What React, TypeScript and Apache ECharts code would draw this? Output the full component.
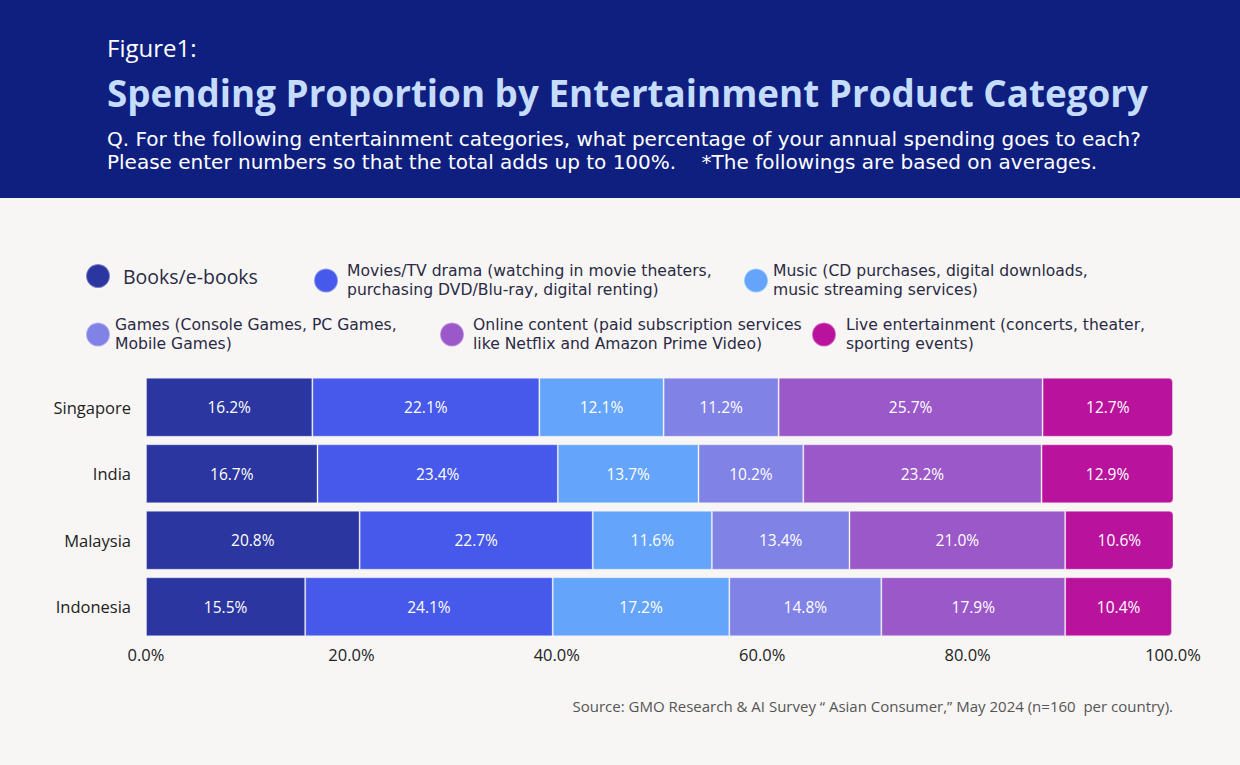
import React, { useEffect, useRef } from "react";
import * as echarts from "echarts";

const countries = ["Singapore", "India", "Malaysia", "Indonesia"];
const seriesNames = [
  "Books/e-books",
  "Movies/TV drama (watching in movie theaters,\npurchasing DVD/Blu-ray, digital renting)",
  "Music (CD purchases, digital downloads,\nmusic streaming services)",
  "Games (Console Games, PC Games,\nMobile Games)",
  "Online content (paid subscription services\nlike Netflix and Amazon Prime Video)",
  "Live entertainment (concerts, theater,\nsporting events)",
];
const books = [16.2, 16.7, 20.8, 15.5];
const movies = [22.1, 23.4, 22.7, 24.1];
const music = [12.1, 13.7, 11.6, 17.2];
const games = [11.2, 10.2, 13.4, 14.8];
const online = [25.7, 23.2, 21.0, 17.9];
const live = [12.7, 12.9, 10.6, 10.4];
const colors = ["#2b36a1", "#4759ea", "#64a5fb", "#8182e6", "#9b58c9", "#b9139d"];
const xTicks = [0, 20, 40, 60, 80, 100];

const FONT = "'Open Sans'";
const FONT2 = "'DejaVu Sans'";

export default function App() {
  const ref = useRef<HTMLDivElement>(null);
  useEffect(() => {
    const chart = echarts.init(ref.current!, null, { renderer: "svg" });
    const values = [books, movies, music, games, online, live];
    const legendPos = [
      { left: 85, top: 263, pad: 8 },
      { left: 313, top: 262, pad: 4 },
      { left: 743, top: 262, pad: 0 },
      { left: 85, top: 316, pad: 0 },
      { left: 439, top: 316, pad: 4 },
      { left: 811, top: 316, pad: 5 },
    ];
    const option: any = {
      animation: false,
      backgroundColor: "#f7f6f4",
      textStyle: { fontFamily: FONT },
      legend: seriesNames.map((n, i) => ({
        data: [n],
        left: legendPos[i].left,
        top: legendPos[i].top,
        icon: "circle",
        itemWidth: 24,
        itemHeight: 24,
        padding: 0,
        selectedMode: false,
        textStyle: {
          fontFamily: i === 0 ? FONT : FONT2,
          fontSize: i === 0 ? 19.5 : 15.6,
          lineHeight: 18.5,
          color: "#2a2a44",
          padding: [0, 0, 0, legendPos[i].pad],
        },
      })),
      grid: { left: 146, right: 67, top: 374, bottom: 125 },
      xAxis: {
        type: "value",
        min: 0,
        max: 100,
        interval: 20,
        axisLine: { show: false },
        axisTick: { show: false },
        splitLine: { show: false },
        axisLabel: {
          fontFamily: FONT,
          fontSize: 16.5,
          color: "#222",
          margin: 6,
          formatter: (v: number) => (xTicks.includes(v) ? v.toFixed(1) + "%" : ""),
        },
      },
      yAxis: {
        type: "category",
        inverse: true,
        data: countries,
        axisLine: { show: false },
        axisTick: { show: false },
        axisLabel: { fontFamily: FONT, fontSize: 16.5, color: "#222", margin: 15 },
      },
      series: seriesNames.map((n, i) => ({
        name: n,
        type: "bar",
        stack: "total",
        barWidth: 59,
        data: values[i],
        itemStyle: {
          color: colors[i],
          borderColor: "rgba(255,255,255,0.35)",
          borderWidth: 1,
          borderRadius: i === 5 ? [0, 4, 4, 0] : 0,
        },
        label: {
          show: true,
          position: "inside",
          color: "#ffffff",
          fontFamily: FONT,
          fontSize: 15.5,
          formatter: (p: any) => Number(p.value).toFixed(1) + "%",
        },
      })),
      graphic: [
        { type: "rect", left: 0, top: 0, shape: { width: 1240, height: 198 }, style: { fill: "#0f1f80" }, z: -1 },
        {
          type: "text", left: 107, top: 35,
          style: { text: "Figure1:", fill: "#ffffff", font: `24px ${FONT}` },
        },
        {
          type: "text", left: 107, top: 74,
          style: { text: "Spending Proportion by Entertainment Product Category", fill: "#c6dcfc", font: `bold 36.8px ${FONT}` },
        },
        {
          type: "text", left: 107, top: 127,
          style: {
            text: "Q. For the following entertainment categories, what percentage of your annual spending goes to each?\nPlease enter numbers so that the total adds up to 100%.    *The followings are based on averages.",
            fill: "#ffffff", font: `20px ${FONT2}`, lineHeight: 23.5,
          },
        },
        {
          type: "text", right: 67, top: 698,
          style: { text: "Source: GMO Research & AI Survey \u201c Asian Consumer,\u201d May 2024 (n=160  per country).", fill: "#555", font: `15px ${FONT}` },
        },
      ],
    };
    chart.setOption(option);
    return () => chart.dispose();
  }, []);
  return <div ref={ref} style={{ position: "absolute", left: 0, top: 0, width: 1240, height: 765 }} />;
}
